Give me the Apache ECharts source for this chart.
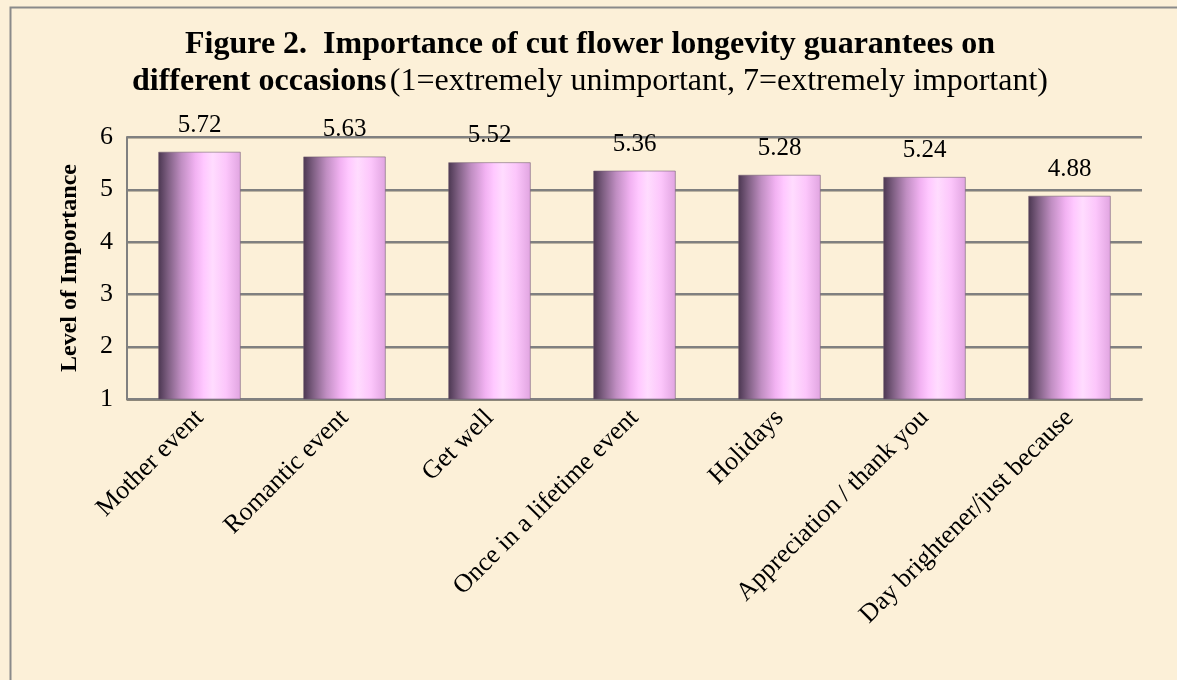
<!DOCTYPE html>
<html>
<head>
<meta charset="utf-8">
<script src="https://cdn.jsdelivr.net/npm/echarts@6/dist/echarts.min.js"></script>
<style>
html,body{margin:0;padding:0;background:#fcf0d8;}
#chart{width:1177px;height:680px;}
</style>
</head>
<body>
<div id="chart"></div>
<script>
const categories = ["Mother event", "Romantic event", "Get well", "Once in a lifetime event", "Holidays", "Appreciation / thank you", "Day brightener/just because"];
const values = [5.72, 5.63, 5.52, 5.36, 5.28, 5.24, 4.88];
const yTicks = [1, 2, 3, 4, 5, 6];
const titleLine1 = 'Figure 2.  Importance of cut flower longevity guarantees on';
const titleLine2Bold = 'different occasions';
const titleLine2 = '(1=extremely unimportant, 7=extremely important)';

const serif = "'Liberation Serif', 'Times New Roman', serif";
const chart = echarts.init(document.getElementById('chart'), null, {renderer: 'canvas'});

const barGradient = new echarts.graphic.LinearGradient(0, 0, 1, 0, [
  {offset: 0, color: '#4a3650'},
  {offset: 0.12, color: '#7e5f82'},
  {offset: 0.28, color: '#c08ec2'},
  {offset: 0.45, color: '#f2b2f2'},
  {offset: 0.55, color: '#ffc8ff'},
  {offset: 0.66, color: '#ffdcfe'},
  {offset: 0.82, color: '#fcc6fb'},
  {offset: 1, color: '#e0a4e0'}
]);

chart.setOption({
  backgroundColor: '#fcf0d8',
  animation: false,
  graphic: [
    {type: 'rect', left: 8, top: 5, shape: {width: 1200, height: 700},
     style: {fill: 'none', stroke: '#8a8a8a', lineWidth: 2}, z: 100},
    {type: 'text', x: 590, y: 26, z: 100,
     style: {
       text: '{b|' + titleLine1 + '}\n{b|' + titleLine2Bold + '} {n|' + titleLine2 + '}',
       align: 'center', verticalAlign: 'top',
       rich: {
         b: {fontFamily: serif, fontSize: 32, fontWeight: 'bold', fill: '#000', lineHeight: 37, align: 'center'},
         n: {fontFamily: serif, fontSize: 32, fontWeight: 'normal', fill: '#000', lineHeight: 37, align: 'center'}
       }
     }}
  ],
  grid: {left: 127, right: 35, top: 137, bottom: 281},
  xAxis: {
    type: 'category',
    data: categories,
    axisLine: {show: true, lineStyle: {color: '#808080', width: 2, shadowColor: 'rgba(0,0,0,0.25)', shadowOffsetY: 1}},
    axisTick: {show: false},
    axisLabel: {
      rotate: 45, interval: 0, margin: 15,
      fontFamily: serif, fontSize: 26, color: '#000'
    }
  },
  yAxis: {
    type: 'value',
    min: 1, max: 6, interval: 1,
    name: 'Level of Importance',
    nameLocation: 'middle',
    nameGap: 45,
    nameRotate: 90,
    nameTextStyle: {fontFamily: serif, fontSize: 24, fontWeight: 'bold', color: '#000'},
    axisLine: {show: true, lineStyle: {color: '#808080', width: 2}},
    axisTick: {show: false},
    axisLabel: {
      margin: 14, fontFamily: serif, fontSize: 26, color: '#000',
      formatter: function (v) { return yTicks.indexOf(v) >= 0 ? String(v) : ''; }
    },
    splitLine: {show: true, lineStyle: {color: '#808080', width: 2, shadowColor: 'rgba(0,0,0,0.25)', shadowOffsetY: 1}}
  },
  series: [{
    type: 'bar',
    data: values,
    barCategoryGap: '43%',
    itemStyle: {color: barGradient, borderColor: 'rgba(110,90,110,0.55)', borderWidth: 1},
    label: {
      show: true, position: 'top', distance: 14,
      fontFamily: serif, fontSize: 25, color: '#000',
      formatter: function (p) { return p.value.toFixed(2); }
    }
  }]
});
</script>
</body>
</html>
